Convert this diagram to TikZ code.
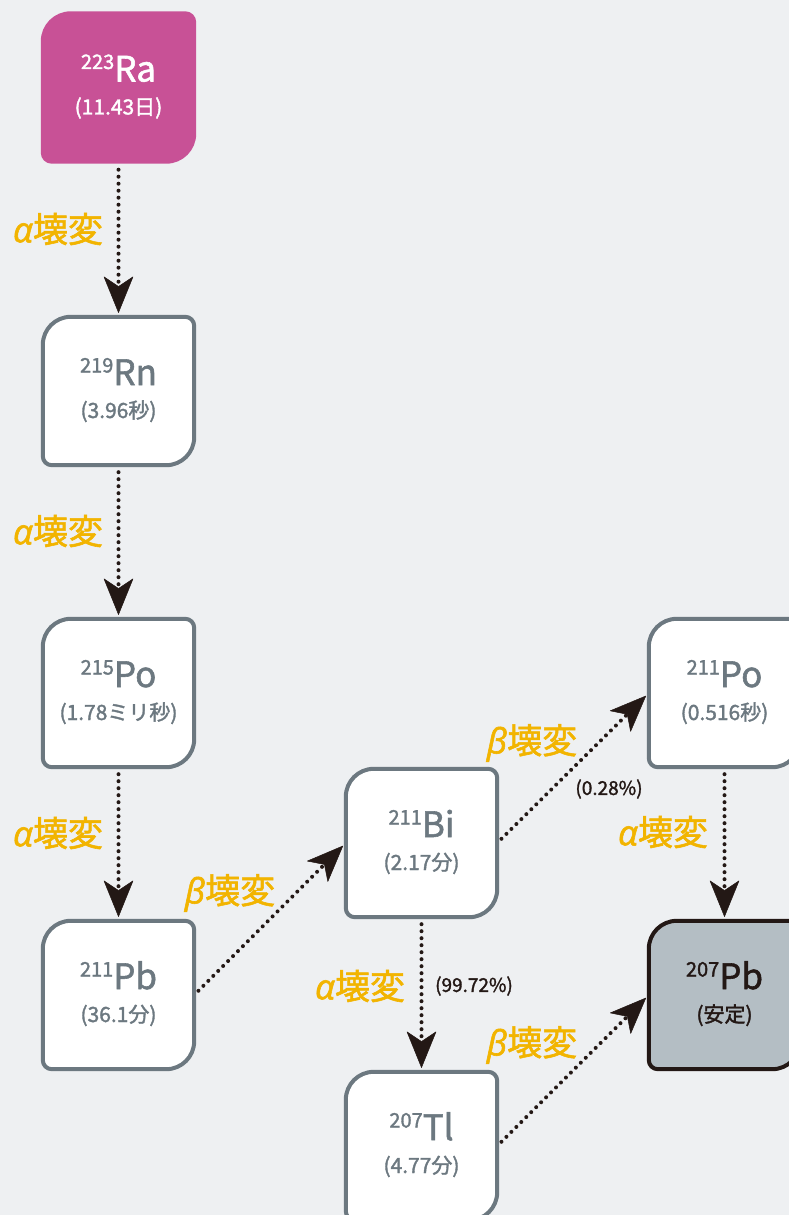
\documentclass[tikz,border=0pt]{standalone}
\usepackage{fontspec}
\setmainfont[FakeBold=1.6]{Noto Sans CJK JP}
\newfontfamily\grfont[FakeBold=1.6]{Open Sans}
\usetikzlibrary{arrows.meta,backgrounds}
\definecolor{bg}{HTML}{EEF0F2}
\definecolor{ramag}{HTML}{C85196}
\definecolor{frame}{HTML}{6C7880}
\definecolor{stablefill}{HTML}{B4BEC4}
\definecolor{ink}{HTML}{231815}
\definecolor{decay}{HTML}{F2B400}
\newcommand\nuc[3]{\raisebox{0pt}[0pt][0pt]{\makebox[0pt]{\raisebox{6pt}{\fontsize{20}{20}\selectfont\raisebox{12.5pt}{#1}\fontsize{35}{35}\selectfont #2}}\makebox[0pt]{\raisebox{-27pt}{\fontsize{21}{21}\selectfont #3}}}}
\newcommand\alp{{\grfont\itshape α}}
\newcommand\bet{{\grfont\itshape β}}
\tikzset{
  nuc/.style={minimum width=151pt, minimum height=148pt, inner sep=0pt, text=frame},
  nucshape/.style={insert path={([yshift=-28pt]#1.north west) arc[start angle=180,end angle=90,radius=28pt] -- ([xshift=-9pt]#1.north east) arc[start angle=90,end angle=0,radius=9pt] -- ([yshift=28pt]#1.south east) arc[start angle=0,end angle=-90,radius=28pt] -- ([xshift=9pt]#1.south west) arc[start angle=270,end angle=180,radius=9pt] -- cycle}},
  decarrow/.style={draw=ink, line width=4pt, line cap=round, dash pattern=on 0pt off 7pt,
    -{Stealth[length=37pt,width=30pt,inset=10pt,line width=0.5pt,round=false]}},
  decaylab/.style={text=decay, inner sep=0pt, font=\fontsize{35}{35}\selectfont},
  pct/.style={text=ink, inner sep=0pt, font=\fontsize{19}{19}\selectfont},
}
\begin{document}
\begin{tikzpicture}[x=1pt,y=1pt]
\useasboundingbox (0,0) rectangle (789,-1215);
\node[nuc, text=white] (ra) at (118.5,-87.5) {\nuc{223}{Ra}{(11.43日)}};
\node[nuc] (rn) at (118.5,-391) {\nuc{219}{Rn}{(3.96秒)}};
\node[nuc] (po215) at (118.5,-693) {\nuc{215}{Po}{(1.78ミリ秒)}};
\node[nuc] (pb211) at (118.5,-995) {\nuc{211}{Pb}{(36.1分)}};
\node[nuc] (bi) at (421.5,-843) {\nuc{211}{Bi}{(2.17分)}};
\node[nuc] (tl) at (421.5,-1146) {\nuc{207}{Tl}{(4.77分)}};
\node[nuc] (po211) at (724.5,-693) {\nuc{211}{Po}{(0.516秒)}};
\node[nuc, text=ink] (pb207) at (724.5,-995) {\nuc{207}{Pb}{(安定)}};

\begin{pgfonlayer}{background}
\clip (0,0) rectangle (789,-1215);
\fill[bg] (0,0) rectangle (789,-1215);
\path[fill=ramag, draw=ramag, line width=4pt] [nucshape=ra];
\path[fill=white, draw=frame, line width=4pt] [nucshape=rn];
\path[fill=white, draw=frame, line width=4pt] [nucshape=po215];
\path[fill=white, draw=frame, line width=4pt] [nucshape=pb211];
\path[fill=white, draw=frame, line width=4pt] [nucshape=bi];
\path[fill=white, draw=frame, line width=4pt] [nucshape=tl];
\path[fill=white, draw=frame, line width=4pt] [nucshape=po211];
\path[fill=stablefill, draw=ink, line width=4pt] [nucshape=pb207];
\end{pgfonlayer}

\draw[decarrow, shorten <=8pt, shorten >=4pt] (ra.south) -- (rn.north);
\draw[decarrow, shorten <=7pt, shorten >=4pt] (rn.south) -- (po215.north);
\draw[decarrow, shorten <=7pt, shorten >=4pt] (po215.south) -- (pb211.north);
\draw[decarrow, shorten <=7pt, shorten >=4pt] (bi.south) -- (tl.north);
\draw[decarrow, shorten <=7pt, shorten >=4pt] (po211.south) -- (pb207.north);
\draw[decarrow, shorten <=6pt, shorten >=4pt] (pb211.east) -- (bi.west);
\draw[decarrow, shorten <=6pt, shorten >=4pt] (bi.east) -- (po211.west);
\draw[decarrow, shorten <=6pt, shorten >=4pt] (tl.east) -- (pb207.west);

\node[decaylab] (la1) at (58,-229) {\alp 壊変};
\node[decaylab] (la2) at (58,-531) {\alp 壊変};
\node[decaylab] (la3) at (58,-833) {\alp 壊変};
\node[decaylab] (la4) at (360,-986) {\alp 壊変};
\node[decaylab] (la5) at (663,-832) {\alp 壊変};
\node[decaylab] (lb1) at (230,-893) {\bet 壊変};
\node[decaylab] (lb2) at (532,-743) {\bet 壊変};
\node[decaylab] (lb3) at (532,-1045) {\bet 壊変};
\node[pct] (p1) at (609,-789) {(0.28\%)};
\node[pct] (p2) at (474,-986) {(99.72\%)};
\end{tikzpicture}
\end{document}
